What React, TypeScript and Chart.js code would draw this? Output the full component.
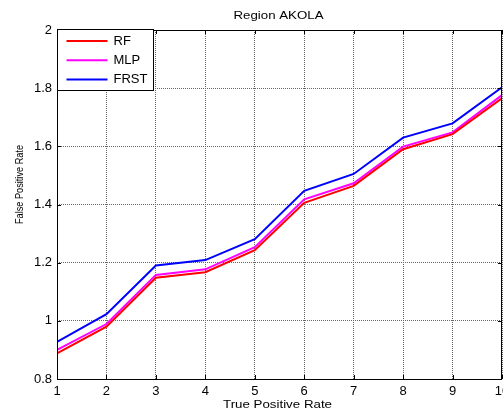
import React, { useEffect, useRef } from "react";
import { Chart, registerables } from "chart.js";

Chart.register(...registerables);

const xValues = [1, 2, 3, 4, 5, 6, 7, 8, 9, 10];
const rfValues = [0.888, 0.98, 1.148, 1.167, 1.243, 1.406, 1.464, 1.59, 1.642, 1.765];
const mlpValues = [0.9, 0.989, 1.158, 1.177, 1.253, 1.418, 1.473, 1.599, 1.648, 1.776];
const frstValues = [0.928, 1.023, 1.19, 1.209, 1.281, 1.447, 1.505, 1.63, 1.679, 1.803];
const seriesNames = ["RF", "MLP", "FRST"];
const seriesColors = ["#ff0000", "#ff00ff", "#0000ff"];
const chartTitle = "Region AKOLA";
const xTitle = "True Positive Rate";
const yTitle = "False Positive Rate";

const FONT = "'Liberation Sans', Arial, sans-serif";

function stretchedText(ctx: any, text: string, x: number, y: number, size: number, targetWidth: number, sy: number) {
  ctx.font = `${size}px ${FONT}`;
  const w = ctx.measureText(text).width;
  const sx = targetWidth / w;
  ctx.save();
  ctx.translate(x, y);
  ctx.scale(sx, sy);
  ctx.textAlign = "center";
  ctx.textBaseline = "alphabetic";
  ctx.fillText(text, 0, 0);
  ctx.restore();
}

const decorPlugin = {
  id: "decor",
  afterDraw(chart: any) {
    const { ctx, chartArea } = chart;
    const { left, right, top, bottom } = chartArea;
    const xs = chart.scales.x;
    const ys = chart.scales.y;
    ctx.save();
    // frame
    ctx.strokeStyle = "#000";
    ctx.lineWidth = 1;
    ctx.strokeRect(Math.round(left) + 0.5, Math.round(top) + 0.5, Math.round(right - left) - 1, Math.round(bottom - top));
    // inward ticks
    ctx.beginPath();
    xValues.forEach((v) => {
      const px = Math.round(xs.getPixelForValue(v)) + 0.5;
      ctx.moveTo(px, bottom);
      ctx.lineTo(px, bottom - 4);
      ctx.moveTo(px, top);
      ctx.lineTo(px, top + 4);
    });
    ys.ticks.forEach((t: any) => {
      const py = Math.round(ys.getPixelForValue(t.value)) + 0.5;
      ctx.moveTo(left, py);
      ctx.lineTo(left + 4, py);
      ctx.moveTo(right, py);
      ctx.lineTo(right - 4, py);
    });
    ctx.stroke();
    ctx.fillStyle = "#000";
    // chart title
    stretchedText(ctx, chartTitle, (left + right) / 2 - 1, 19, 10.5, 90, 1);
    // x title
    stretchedText(ctx, xTitle, (left + right) / 2 - 2, 408, 10.7, 109, 1);
    // y title (rotated)
    ctx.save();
    ctx.translate(23, 184.5);
    ctx.rotate(-Math.PI / 2);
    stretchedText(ctx, yTitle, 0, 0, 9.2, 79, 1.27);
    ctx.restore();
    // legend
    const lx = Math.round(left) + 0.5;
    const ly = Math.round(top) - 0.5;
    ctx.fillStyle = "#fff";
    ctx.fillRect(lx, ly, 96, 61);
    ctx.strokeStyle = "#000";
    ctx.lineWidth = 1;
    ctx.strokeRect(lx, ly, 96, 61);
    ctx.font = `13px ${FONT}`;
    ctx.textAlign = "left";
    ctx.textBaseline = "middle";
    seriesNames.forEach((name, i) => {
      const yy = ly + 11.5 + i * 19.3;
      ctx.strokeStyle = seriesColors[i];
      ctx.lineWidth = 2;
      ctx.beginPath();
      ctx.moveTo(lx + 9, yy);
      ctx.lineTo(lx + 50, yy);
      ctx.stroke();
      ctx.fillStyle = "#000";
      ctx.fillText(name, lx + 56, yy);
    });
    ctx.restore();
  },
};

export default function App() {
  const canvasRef = useRef<HTMLCanvasElement | null>(null);

  useEffect(() => {
    if (!canvasRef.current) return;
    const gridColor = "#666";
    const series = [rfValues, mlpValues, frstValues];
    const chart = new Chart(canvasRef.current, {
      type: "line",
      data: {
        datasets: series.map((vals, i) => ({
          label: seriesNames[i],
          data: xValues.map((x, j) => ({ x, y: vals[j] })),
          borderColor: seriesColors[i],
          backgroundColor: seriesColors[i],
          borderWidth: 2,
          pointRadius: 0,
          tension: 0,
          fill: false,
        })),
      },
      options: {
        animation: false,
        responsive: false,
        layout: { padding: { top: 30, right: 1, left: 0, bottom: 0 } },
        plugins: {
          legend: { display: false },
          title: { display: false },
          tooltip: { enabled: false },
        },
        scales: {
          x: {
            type: "linear",
            min: 1,
            max: 10,
            ticks: {
              stepSize: 1,
              color: "#000",
              font: { family: FONT, size: 13 },
              padding: 5,
              maxRotation: 0,
              autoSkip: false,
            },
            grid: { color: gridColor, drawTicks: false, lineWidth: 1 },
            border: { display: false, dash: [1, 1] },
            title: { display: false },
            afterFit(s: any) {
              s.height = 37;
              s.paddingLeft = 0;
              s.paddingRight = 0;
            },
          },
          y: {
            type: "linear",
            min: 0.8,
            max: 2,
            ticks: {
              stepSize: 0.2,
              color: "#000",
              font: { family: FONT, size: 13 },
              padding: 5,
              callback: (v: any) => String(Number(Number(v).toFixed(1))),
            },
            grid: { color: gridColor, drawTicks: false, lineWidth: 1 },
            border: { display: false, dash: [1, 1] },
            title: { display: false },
            afterFit(s: any) {
              s.width = 57;
              s.paddingTop = 0;
              s.paddingBottom = 0;
            },
          },
        },
      } as any,
      plugins: [decorPlugin],
    });
    return () => chart.destroy();
  }, []);

  return (
    <div style={{ position: "fixed", left: 0, top: 0, width: 503, height: 416, background: "#fff" }}>
      <canvas ref={canvasRef} width={503} height={416} style={{ width: 503, height: 416 }} />
    </div>
  );
}
